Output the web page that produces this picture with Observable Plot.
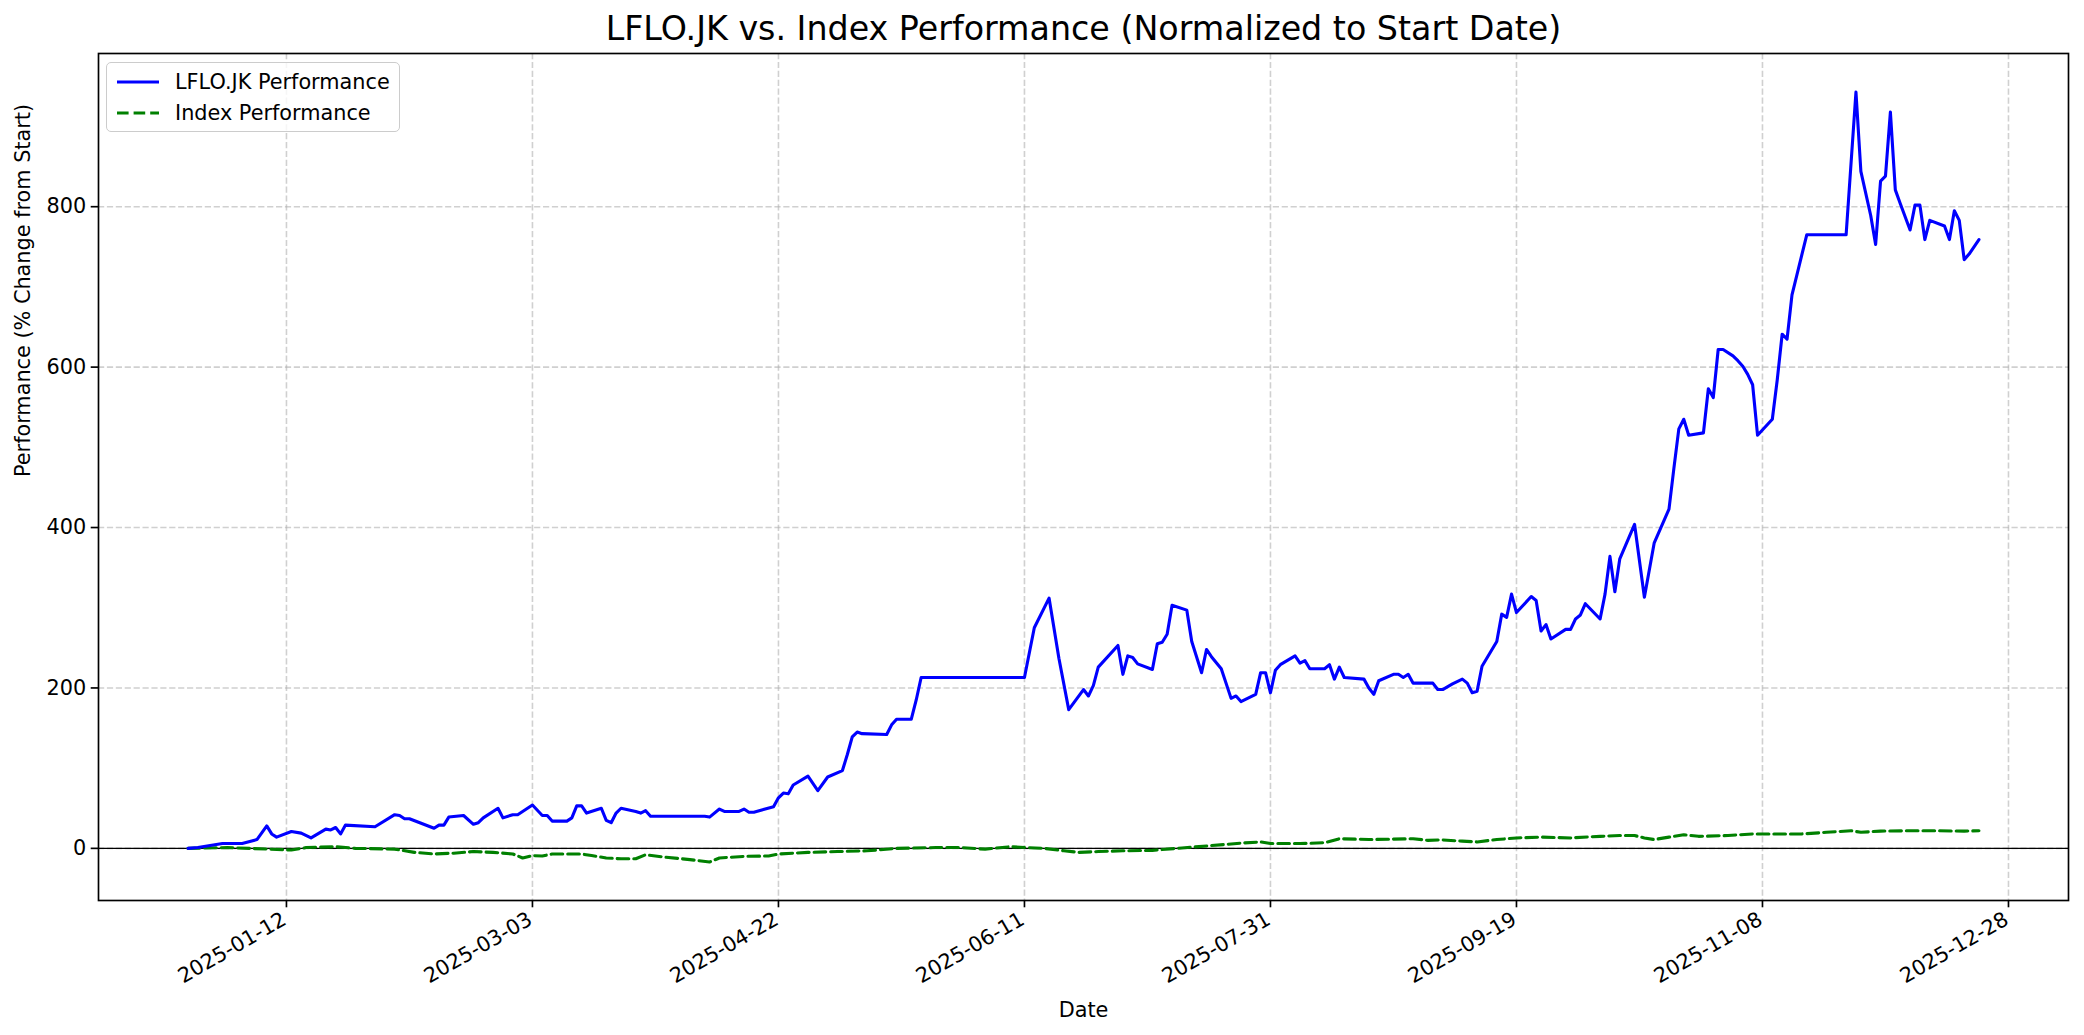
<!DOCTYPE html>
<html><head><meta charset="utf-8">
<script src="https://cdn.jsdelivr.net/npm/d3@7"></script>
<script src="https://cdn.jsdelivr.net/npm/@observablehq/plot@0.6"></script>
<style>
html,body{margin:0;padding:0;background:#fff;}
body{font-family:"DejaVu Sans",sans-serif;}
#wrap{position:relative;width:2084px;height:1035px;overflow:hidden;}
#legend{position:absolute;left:106px;top:62px;width:294px;height:70px;border:1.6px solid #cccccc;border-radius:5px;background:rgba(255,255,255,0.8);box-sizing:border-box;font-size:20.8px;color:#000;}
#legend .row{position:absolute;left:0;height:26px;line-height:26px;white-space:nowrap;}
#legend svg{position:absolute;left:9px;top:0;}
#legend span{position:absolute;left:68px;top:0;}
</style></head><body>
<div id="wrap"><div id="chart"></div>
<div id="legend"></div>
</div>
<script>
// ---- Data ----
const stockDates = ["2024-12-23","2024-12-25","2024-12-30","2025-01-03","2025-01-06","2025-01-08","2025-01-09","2025-01-10","2025-01-13","2025-01-15","2025-01-17","2025-01-20","2025-01-21","2025-01-22","2025-01-23","2025-01-24","2025-01-30","2025-02-03","2025-02-04","2025-02-05","2025-02-06","2025-02-11","2025-02-12","2025-02-13","2025-02-14","2025-02-17","2025-02-19","2025-02-20","2025-02-21","2025-02-24","2025-02-25","2025-02-27","2025-02-28","2025-03-03","2025-03-05","2025-03-06","2025-03-07","2025-03-10","2025-03-11","2025-03-12","2025-03-13","2025-03-14","2025-03-17","2025-03-18","2025-03-19","2025-03-20","2025-03-21","2025-03-24","2025-03-25","2025-03-26","2025-03-27","2025-04-07","2025-04-08","2025-04-10","2025-04-11","2025-04-14","2025-04-15","2025-04-16","2025-04-17","2025-04-21","2025-04-22","2025-04-23","2025-04-24","2025-04-25","2025-04-28","2025-04-30","2025-05-02","2025-05-05","2025-05-06","2025-05-07","2025-05-08","2025-05-09","2025-05-14","2025-05-15","2025-05-16","2025-05-19","2025-05-20","2025-05-21","2025-06-11","2025-06-13","2025-06-16","2025-06-18","2025-06-20","2025-06-23","2025-06-24","2025-06-25","2025-06-26","2025-06-30","2025-07-01","2025-07-02","2025-07-03","2025-07-04","2025-07-07","2025-07-08","2025-07-09","2025-07-10","2025-07-11","2025-07-14","2025-07-15","2025-07-17","2025-07-18","2025-07-19","2025-07-21","2025-07-23","2025-07-24","2025-07-25","2025-07-28","2025-07-29","2025-07-30","2025-07-31","2025-08-01","2025-08-02","2025-08-05","2025-08-06","2025-08-07","2025-08-08","2025-08-11","2025-08-12","2025-08-13","2025-08-14","2025-08-15","2025-08-19","2025-08-20","2025-08-21","2025-08-22","2025-08-25","2025-08-26","2025-08-27","2025-08-28","2025-08-29","2025-09-02","2025-09-03","2025-09-04","2025-09-06","2025-09-08","2025-09-09","2025-09-10","2025-09-11","2025-09-12","2025-09-15","2025-09-16","2025-09-17","2025-09-18","2025-09-19","2025-09-22","2025-09-23","2025-09-24","2025-09-25","2025-09-26","2025-09-29","2025-09-30","2025-10-01","2025-10-02","2025-10-03","2025-10-06","2025-10-07","2025-10-08","2025-10-09","2025-10-10","2025-10-13","2025-10-15","2025-10-17","2025-10-20","2025-10-21","2025-10-22","2025-10-23","2025-10-24","2025-10-27","2025-10-28","2025-10-29","2025-10-30","2025-10-31","2025-11-02","2025-11-03","2025-11-04","2025-11-05","2025-11-06","2025-11-07","2025-11-10","2025-11-11","2025-11-12","2025-11-13","2025-11-14","2025-11-15","2025-11-17","2025-11-25","2025-11-27","2025-11-28","2025-11-30","2025-12-01","2025-12-02","2025-12-03","2025-12-04","2025-12-05","2025-12-06","2025-12-08","2025-12-09","2025-12-10","2025-12-11","2025-12-12","2025-12-15","2025-12-16","2025-12-17","2025-12-18","2025-12-19","2025-12-20","2025-12-22"];
const stockValues = [0,1,6,6,11,28,18,14,21,19,13,24,23,26,18,29,27,42,41,37,37,25,29,29,39,41,30,32,38,50,38,42,42,54,41,41,34,34,38,53,53,44,50,35,32,44,50,46,44,47,40,40,39,49,46,46,49,45,45,52,63,69,68,79,90,72,89,97,117,139,145,143,142,154,161,161,185,213,213,275,312,237,173,198,190,203,226,253,217,240,238,230,223,255,257,267,303,297,258,219,248,239,224,187,190,183,192,219,219,194,222,229,240,231,234,224,224,229,211,226,213,211,200,192,209,217,217,213,217,206,206,198,198,205,211,206,194,196,227,258,292,288,317,294,314,309,271,279,261,273,273,286,291,305,286,317,364,320,361,404,313,381,423,474,523,535,515,518,573,562,622,622,614,608,601,591,578,515,535,584,641,635,690,715,765,765,943,844,789,753,832,838,918,821,804,771,802,802,759,783,776,759,795,783,734,741,759];

const indexDates = ["2024-12-23","2024-12-31","2025-01-13","2025-01-16","2025-01-22","2025-01-26","2025-02-03","2025-02-07","2025-02-11","2025-02-15","2025-02-19","2025-02-23","2025-02-27","2025-03-01","2025-03-03","2025-03-05","2025-03-07","2025-03-11","2025-03-13","2025-03-15","2025-03-18","2025-03-21","2025-03-24","2025-03-26","2025-03-30","2025-04-04","2025-04-08","2025-04-10","2025-04-15","2025-04-20","2025-04-22","2025-04-28","2025-05-04","2025-05-10","2025-05-16","2025-05-24","2025-05-29","2025-06-03","2025-06-08","2025-06-15","2025-06-19","2025-06-22","2025-06-26","2025-07-01","2025-07-07","2025-07-13","2025-07-22","2025-07-25","2025-07-29","2025-07-31","2025-08-06","2025-08-11","2025-08-14","2025-08-20","2025-08-29","2025-09-01","2025-09-04","2025-09-08","2025-09-11","2025-09-15","2025-09-19","2025-09-24","2025-09-30","2025-10-06","2025-10-10","2025-10-13","2025-10-15","2025-10-17","2025-10-20","2025-10-23","2025-10-26","2025-11-01","2025-11-06","2025-11-16","2025-11-21","2025-11-26","2025-11-28","2025-12-02","2025-12-08","2025-12-13","2025-12-19","2025-12-22"];
const indexValues = [0,1,-2,1,2,0,-1,-5,-7,-6,-4,-5,-7,-12,-9,-9.5,-7,-7,-7,-9,-12,-13,-13,-8,-11,-14,-17,-12,-10,-9.5,-7,-5,-4,-3,0,1,1,-1,2,0,-3,-5,-4,-3,-2.5,0.5,5,6.5,8,6,6,7,12,11,12,10,10.5,9,8,11,13,14,13,15,16,16,13,11,14,17,15,16,18,18,20,22,20,21.5,22,22,21.5,22];

const xTickLabels = ["2025-01-12","2025-03-03","2025-04-22","2025-06-11","2025-07-31","2025-09-19","2025-11-08","2025-12-28"];
const yTickValues = [0,200,400,600,800];

const titleText = "LFLO.JK vs. Index Performance (Normalized to Start Date)";
const xLabelText = "Date";
const yLabelText = "Performance (% Change from Start)";
const seriesNames = ["LFLO.JK Performance","Index Performance"];

// ---- Build ----
const parse = d3.utcParse("%Y-%m-%d");
const stock = stockDates.map((d,i)=>({date:parse(d), value:stockValues[i]}));
const index = indexDates.map((d,i)=>({date:parse(d), value:indexValues[i]}));
const xTicks = xTickLabels.map(parse);
const fmt = d3.utcFormat("%Y-%m-%d");

// matplotlib-like 5% margins
const allDates = stock.concat(index).map(d=>+d.date);
const dMin = d3.min(allDates), dMax = d3.max(allDates), dPad = (dMax-dMin)*0.05;
const allVals = stock.concat(index).map(d=>d.value);
const vMin = d3.min(allVals), vMax = d3.max(allVals), vPad = (vMax-vMin)*0.05;

const W=2084, H=1035, ML=98, MR=16, MT=53, MB=135;
const FS = 20.8;
const gridStyle = {stroke:"#b0b0b0", strokeOpacity:0.6, strokeWidth:1.6, strokeDasharray:"6.2,2.7"};

const chart = Plot.plot({
  width:W, height:H, marginLeft:ML, marginRight:MR, marginTop:MT, marginBottom:MB,
  style:{fontFamily:"'DejaVu Sans', sans-serif", fontSize:FS+"px", background:"white", color:"black", overflow:"visible"},
  x:{type:"utc", domain:[new Date(dMin-dPad), new Date(dMax+dPad)]},
  y:{domain:[vMin-vPad, vMax+vPad]},
  marks:[
    Plot.gridX(xTicks, gridStyle),
    Plot.gridY(yTickValues, gridStyle),
    Plot.ruleY([0], {stroke:"black", strokeWidth:1.2}),
    Plot.line(index, {x:"date", y:"value", stroke:"#008000", strokeWidth:3.1, strokeDasharray:"11.6,5"}),
    Plot.line(stock, {x:"date", y:"value", stroke:"#0000ff", strokeWidth:3.1}),
    Plot.frame({stroke:"black", strokeWidth:1.67}),
    Plot.axisX(xTicks, {tickSize:7.3, strokeWidth:1.67, tickFormat:()=>"", label:null}),
    Plot.text(xTicks, {x:d=>d, text:d=>fmt(d), frameAnchor:"bottom", dy:10, dx:-6, rotate:-30, textAnchor:"end", lineAnchor:"top", fontSize:FS, fill:"black"}),
    Plot.axisY(yTickValues, {tickSize:7.3, tickPadding:4.9, strokeWidth:1.67, fontSize:FS, label:null, tickFormat:d=>String(d)}),
    Plot.text([xLabelText], {frameAnchor:"bottom", dy:110, lineAnchor:"middle", fontSize:FS, fill:"black"}),
    Plot.text([yLabelText], {frameAnchor:"left", dx:-75, rotate:-90, lineAnchor:"middle", fontSize:FS, fill:"black"}),
    Plot.text([titleText], {frameAnchor:"top", dy:-24, lineAnchor:"middle", fontSize:33.3, fill:"black"})
  ]
});
document.getElementById("chart").appendChild(chart);

// ---- Legend ----
const legend = document.getElementById("legend");
const legendStyles = [{stroke:"#0000ff", dash:""},{stroke:"#008000", dash:"11.6,5"}];
seriesNames.forEach((name,i)=>{
  const row = document.createElement("div");
  row.className = "row";
  row.style.top = (6 + i*31) + "px";
  row.style.width = "100%";
  row.innerHTML = `<svg width="44" height="26"><line x1="1" x2="43" y1="13" y2="13" stroke="${legendStyles[i].stroke}" stroke-width="3.1" stroke-dasharray="${legendStyles[i].dash}"/></svg><span>${name}</span>`;
  legend.appendChild(row);
});
</script>
</body></html>
